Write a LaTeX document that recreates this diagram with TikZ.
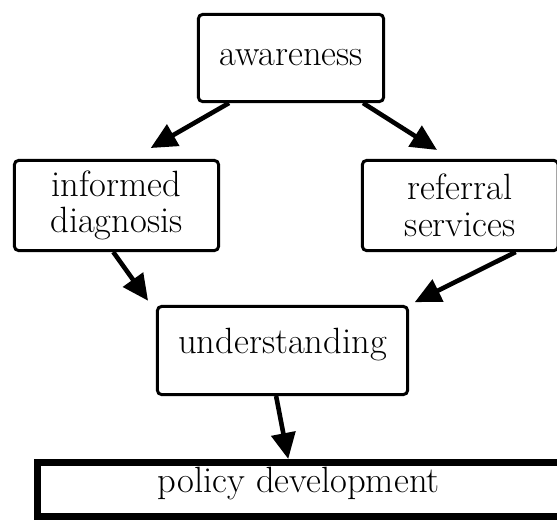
\documentclass[tikz,border=0pt]{standalone}
\usepackage{tikz}
\usetikzlibrary{arrows.meta}
\tikzset{
	stage/.style={draw, line width=0.075cm, rounded corners=0.1cm, align=center, inner sep=0pt, font=\fontsize{26}{26}\selectfont},
	goal/.style={draw, line width=0.175cm, inner sep=0pt, font=\fontsize{26}{26}\selectfont},
	flow/.style={line width=0.115cm, -{Triangle[length=0.65cm,width=0.6cm]}}
}

\begin{document}
\begin{tikzpicture}[x=0.025cm, y=-0.025cm]
			%%%%% START %%%%%
			
			\useasboundingbox (0, 0) rectangle (557, 520);
			\clip (0, 0) rectangle (557, 520);
			
			\node[stage, minimum width=4.625cm, minimum height=2.175cm, text height=0.63cm, text depth=0.28cm] (aw) at (291, 58) {awareness};
			
			\node[stage, minimum width=5.1cm, minimum height=2.25cm] (inf) at (116.5, 205.5) {informed\\diagnosis};
			\node[stage, minimum width=4.89cm, minimum height=2.25cm] (ref) at (460.25, 205.5) {referral\\services};
			
			\node[stage, minimum width=6.25cm, minimum height=2.2cm, text height=0.63cm, text depth=0.505cm] (und) at (282.5, 350.5) {understanding};
			
			\node[goal, minimum width=13.06cm, minimum height=1.35cm, text height=0.63cm, text depth=0.505cm] (pol) at (298.75, 489.5) {policy development};
			
			\draw[flow, shorten >=0.55cm] (aw.216) -- (inf.72);
			\draw[flow, shorten >=0.42cm] (aw.-32) -- (ref.101);
			
			\draw[flow, shorten >=0.34cm] (inf.-94) -- (und.163);
			\draw[flow, shorten >=0.16cm] (ref.-40) -- (und.north east);
			
			\draw[flow] (und.-98) -- (pol.109);
			
			%%%%% END %%%%%
\end{tikzpicture}
\end{document}
